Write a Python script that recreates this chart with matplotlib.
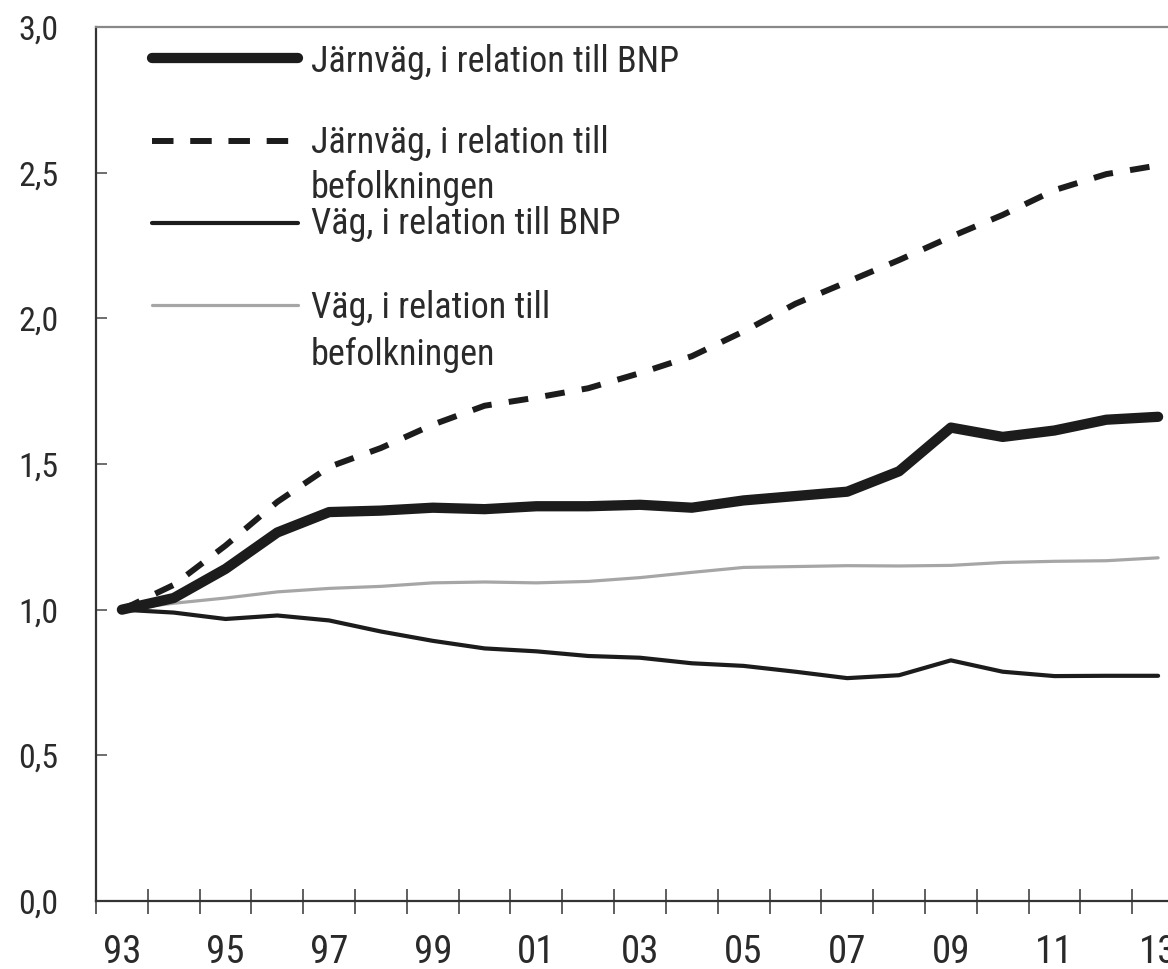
import matplotlib
matplotlib.use("Agg")
import matplotlib.pyplot as plt
from matplotlib import font_manager

# ----------------------
# data (index, 1993 = 1,0)
# ----------------------
years = list(range(1993, 2014))
jarnvag_bnp = [1.00, 1.04, 1.14, 1.265, 1.335, 1.34, 1.35, 1.345, 1.355, 1.355, 1.36,
               1.35, 1.375, 1.39, 1.405, 1.475, 1.625, 1.593, 1.615, 1.652, 1.662]
jarnvag_bef = [1.00, 1.085, 1.22, 1.37, 1.49, 1.555, 1.635, 1.70, 1.728, 1.76, 1.812,
               1.87, 1.955, 2.05, 2.125, 2.20, 2.28, 2.355, 2.44, 2.495, 2.525]
vag_bnp = [1.00, 0.99, 0.968, 0.98, 0.963, 0.925, 0.893, 0.867, 0.857, 0.841, 0.835,
           0.816, 0.807, 0.787, 0.765, 0.775, 0.826, 0.787, 0.772, 0.773, 0.773]
vag_bef = [1.00, 1.022, 1.04, 1.061, 1.073, 1.08, 1.092, 1.095, 1.092, 1.097, 1.11,
           1.128, 1.145, 1.148, 1.151, 1.15, 1.152, 1.162, 1.166, 1.168, 1.178]

labels = [
    ["Järnväg, i relation till BNP"],
    ["Järnväg, i relation till", "befolkningen"],
    ["Väg, i relation till BNP"],
    ["Väg, i relation till", "befolkningen"],
]

x_label_years = list(range(1993, 2014, 2))
x_labels = ["93", "95", "97", "99", "01", "03", "05", "07", "09", "11", "13"]
y_ticks = [0.0, 0.5, 1.0, 1.5, 2.0, 2.5, 3.0]
y_labels = ["0,0", "0,5", "1,0", "1,5", "2,0", "2,5", "3,0"]

# ----------------------
# pick a narrow / condensed face if one is installed
# ----------------------
def find_condensed():
    good = []
    for f in font_manager.fontManager.ttflist:
        nm = (f.name + " " + f.fname).lower()
        cond = f.stretch in ("condensed", "semi-condensed", "extra-condensed") \
            or "narrow" in nm or "condensed" in nm
        if not cond or f.style != "normal":
            continue
        if f.weight not in (400, "normal", "regular", "book"):
            continue
        if "bold" in f.fname.lower() or "oblique" in f.fname.lower() or "italic" in f.fname.lower():
            continue
        good.append(f)
    order = ["liberation", "roboto", "open", "noto", "dejavu"]
    good.sort(key=lambda f: next((i for i, k in enumerate(order) if k in f.name.lower()), 99))
    return good[0].fname if good else None

cond_file = find_condensed()
if cond_file:
    def fp(size):
        return font_manager.FontProperties(fname=cond_file, size=size)
    legend_size, ylab_size, xlab_size = 26, 24.5, 28
else:
    def fp(size):
        return font_manager.FontProperties(family=["Liberation Sans", "DejaVu Sans"], size=size)
    legend_size, ylab_size, xlab_size = 23, 22, 26

black = "#1c1c1c"
grey = "#a6a6a6"
text_col = "#2a2a2a"
styles = [
    dict(color=black, lw=7.4, solid_capstyle="round", solid_joinstyle="round"),
    dict(color=black, lw=4.3, linestyle=(0, (3.3, 2.9)), dash_capstyle="butt"),
    dict(color=black, lw=3.0, solid_capstyle="round", solid_joinstyle="round"),
    dict(color=grey, lw=2.3, solid_capstyle="round", solid_joinstyle="round"),
]
series = [jarnvag_bnp, jarnvag_bef, vag_bnp, vag_bef]

fig = plt.figure(figsize=(11.68, 9.69), dpi=100)
ax = fig.add_axes([96 / 1168, 68 / 969, 1088 / 1168, 874 / 969])

# draw order: grey, thin, dashed, thick on top
for i in [3, 2, 1, 0]:
    ax.plot(years, series[i], **styles[i], zorder=3 + (3 - i))

ax.set_xlim(1992.5, 2013.5)
ax.set_ylim(0, 3.0)

# ----------------------
# axes styling
# ----------------------
ax.spines["right"].set_visible(False)
for s in ["left", "bottom"]:
    ax.spines[s].set_color("#333333")
    ax.spines[s].set_linewidth(1.6)
ax.spines["top"].set_color("#888888")
ax.spines["top"].set_linewidth(1.6)

ax.set_yticks(y_ticks)
ax.set_yticklabels(y_labels, fontproperties=fp(ylab_size))
ax.tick_params(axis="y", direction="in", length=8, width=1.2, color="#555555",
               pad=27, labelcolor=text_col)

ax.set_xticks([y + 0.5 for y in range(1992, 2013)])
ax.set_xticklabels([])
ax.tick_params(axis="x", direction="inout", length=18, width=1.2, color="#444444")
for yr, lab in zip(x_label_years, x_labels):
    ax.annotate(lab, xy=(yr, 0), xycoords=("data", "axes fraction"),
                xytext=(0, -24), textcoords="offset points",
                ha="center", va="top", fontproperties=fp(xlab_size), color=text_col,
                annotation_clip=False)

# ----------------------
# legend drawn by hand (handle aligned with first text line)
# ----------------------
def ax_x(px):
    return (px - 96) / 1088

def ax_y(py):
    return (901 - py) / 874

handle_rows = [58, 141, 223, 305]
baselines = [[72], [153, 198], [234], [318, 365]]
legend_styles = [
    dict(color=black, lw=7.4, solid_capstyle="round"),
    dict(color=black, lw=4.3, linestyle=(0, (3.6, 2.8)), dash_capstyle="butt"),
    dict(color=black, lw=3.0, solid_capstyle="round"),
    dict(color=grey, lw=2.3, solid_capstyle="round"),
]
for row, lines, base, st in zip(handle_rows, labels, baselines, legend_styles):
    ax.plot([ax_x(152), ax_x(298)], [ax_y(row), ax_y(row)], transform=ax.transAxes,
            clip_on=False, **st)
    for txt, b in zip(lines, base):
        ax.text(ax_x(311), ax_y(b), txt, transform=ax.transAxes, ha="left",
                va="baseline", fontproperties=fp(legend_size), color=text_col)

fig.savefig("out.png", dpi=100)
plt.close(fig)
